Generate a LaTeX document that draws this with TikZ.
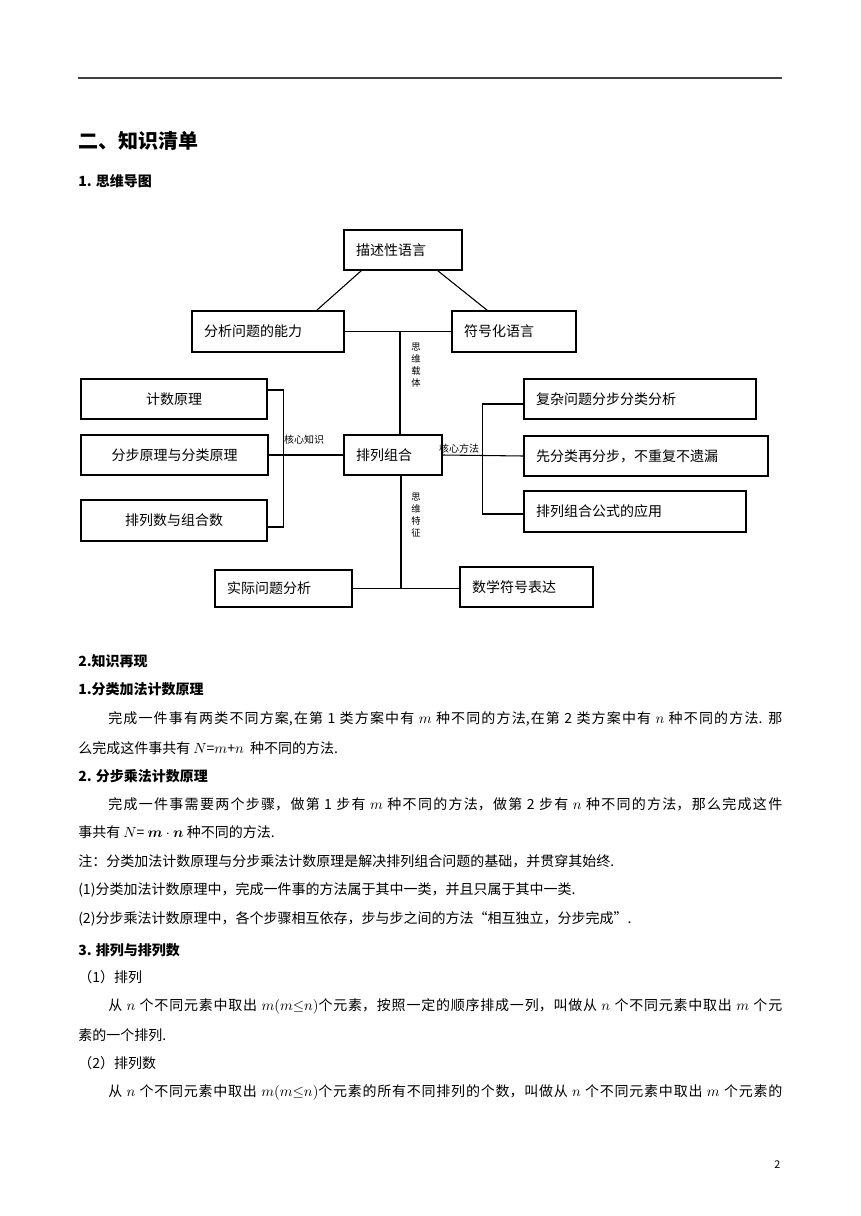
\documentclass[tikz,border=0pt]{standalone}
\usepackage{amsmath,amssymb}
\usepackage{fontspec}
\setmainfont{Liberation Serif}
\newfontfamily\cjk{Noto Sans CJK SC}
\XeTeXlinebreaklocale "zh"
\XeTeXlinebreakskip=0pt
\usepackage{tikz}
\usetikzlibrary{calc}

\newcommand\fullline[1]{\noindent\XeTeXlinebreakskip=0pt plus 3pt\relax\parfillskip=0pt\relax\spaceskip=0.3em plus 0.05em\relax #1\par}

\tikzset{
  mapbox/.style={draw,line width=0.8pt,inner xsep=9pt,inner ysep=0pt,
    align=left,font=\cjk\fontsize{10.5}{12}\selectfont},
  tag/.style={inner sep=0pt,font=\cjk\fontsize{7.5}{8}\selectfont},
  vlab/.style={align=center,inner sep=0pt,font=\cjk\fontsize{7}{9}\selectfont},
  body/.style={anchor=west,inner sep=0pt,font=\cjk\fontsize{10.5}{12}\selectfont},
  fullpar/.style={body,text width=505.5pt,align=justify},
  head/.style={body,font=\cjk\bfseries\fontsize{10.5}{12}\selectfont}
}

\begin{document}
\begin{tikzpicture}[x=0.75pt,y=-0.75pt]
			\useasboundingbox[fill=white] (0,0) rectangle (860,1216);
			% Page rule and titles
			\draw[line width=1.2pt,black!75] (78,78) -- (782,78);
			\node[body,font=\cjk\bfseries\fontsize{15}{18}\selectfont] (title) at (78,141) {二、知识清单};
			\node[head] (maptitle) at (78,181) {1. 思维导图};
			
			% Mind map boxes
			\node[mapbox,minimum width=88.5pt,minimum height=30pt,text width=70.5pt] (desc) at (403,250) {描述性语言};
			\node[mapbox,minimum width=114pt,minimum height=30.75pt,text width=96pt] (anal) at (268,331.5) {分析问题的能力};
			\node[mapbox,minimum width=93pt,minimum height=30.75pt,text width=75pt] (sym) at (514,331.5) {符号化语言};
			\node[mapbox,minimum width=139.5pt,minimum height=30pt,text width=121.5pt,align=center] (count) at (174,399) {计数原理};
			\node[mapbox,minimum width=140.25pt,minimum height=30pt,text width=122.25pt,align=center] (steps) at (174.5,455) {分步原理与分类原理};
			\node[mapbox,minimum width=139.5pt,minimum height=30.75pt,text width=121.5pt,align=center] (nums) at (174,520.5) {排列数与组合数};
			\node[mapbox,minimum width=73.5pt,minimum height=30pt,text width=55.5pt] (core) at (393,455) {排列组合};
			\node[mapbox,minimum width=174pt,minimum height=30pt,text width=156pt] (comp) at (640,399) {复杂问题分步分类分析};
			\node[mapbox,minimum width=183pt,minimum height=30pt,text width=165pt] (first) at (646,456) {先分类再分步，不重复不遗漏};
			\node[mapbox,minimum width=166.5pt,minimum height=30.75pt,text width=148.5pt] (form) at (635,511.5) {排列组合公式的应用};
			\node[mapbox,minimum width=102.75pt,minimum height=27.75pt,text width=84.75pt] (real) at (283.5,588.5) {实际问题分析};
			\node[mapbox,minimum width=99.75pt,minimum height=30pt,text width=81.75pt] (expr) at (526.5,587) {数学符号表达};
			
			% Top connectors
			\draw[line width=0.8pt] ($(desc.south west)+(18,0)$) -- ($(anal.north east)+(-28,0)$);
			\draw[line width=0.8pt] ($(desc.south east)+(-25,0)$) -- ($(sym.north west)+(36,0)$);
			\draw[line width=0.8pt] (anal.east) -- (sym.west);
			\coordinate (cn) at ($(core.north)+(7,0)$);
			\draw[line width=0.8pt] (cn) -- (cn |- anal.east);
			\node[vlab] (carrier) at (416,365) {思\\维\\载\\体};
			
			% Left bracket
			\draw[line width=0.8pt] ($(count.east)+(0,-9)$) -| ($(nums.east)+(16,6.5)$) -- ($(nums.east)+(0,6.5)$);
			\draw[line width=0.8pt] (steps.east) -- (core.west);
			\node[tag] (know) at (304,440) {核心知识};
			
			% Right bracket
			\draw[line width=0.8pt] ($(comp.west)+(0,5)$) -| ($(form.west)+(-41,2.5)$) -- ($(form.west)+(0,2.5)$);
			\draw[line width=0.8pt] (core.east) -- (first.west);
			\node[tag] (meth) at (459,449) {核心方法};
			
			% Bottom connectors
			\coordinate (cs) at ($(core.south)+(8,0)$);
			\draw[line width=0.8pt] (cs) -- (cs |- real.east);
			\draw[line width=0.8pt] (real.east) -- (real.east -| expr.west);
			\node[vlab] (feature) at (416,515) {思\\维\\特\\征};
			
			% Text below the map
			\node[head] (t1) at (78,661) {2.知识再现};
			\node[head] (t2) at (78,689) {1.分类加法计数原理};
			\node[fullpar] (t3) at (108,719) {\fullline{完成一件事有两类不同方案,在第 1 类方案中有 $m$ 种不同的方法,在第 2 类方案中有 $n$ 种不同的方法. 那}};
			\node[body] (t4) at (78,748) {么完成这件事共有 $N$=$m$+$n$ \ 种不同的方法.};
			\node[head] (t5) at (78,776) {2. 分步乘法计数原理};
			\node[fullpar] (t6) at (108,804) {\fullline{完成一件事需要两个步骤，做第 1 步有 $m$ 种不同的方法，做第 2 步有 $n$ 种不同的方法，那么完成这件}};
			\node[body] (t7) at (78,832) {事共有 $N$= $\boldsymbol{m}\cdot\boldsymbol{n}$ 种不同的方法.};
			\node[body] (t8) at (78,861) {注：分类加法计数原理与分步乘法计数原理是解决排列组合问题的基础，并贯穿其始终.};
			\node[body] (t9) at (78,890) {(1)分类加法计数原理中，完成一件事的方法属于其中一类，并且只属于其中一类.};
			\node[body] (t10) at (78,919) {(2)分步乘法计数原理中，各个步骤相互依存，步与步之间的方法“相互独立，分步完成”.};
			\node[head] (t11) at (78,950) {3. 排列与排列数};
			\node[body] (t12) at (78,977) {（1）排列};
			\node[fullpar] (t13) at (108,1006) {\fullline{从 $n$ 个不同元素中取出 $m(m{\leq}n)$个元素，按照一定的顺序排成一列，叫做从 $n$ 个不同元素中取出 $m$ 个元}};
			\node[body] (t14) at (78,1035) {素的一个排列.};
			\node[body] (t15) at (78,1063) {（2）排列数};
			\node[fullpar] (t16) at (108,1092) {\fullline{从 $n$ 个不同元素中取出 $m(m{\leq}n)$个元素的所有不同排列的个数，叫做从 $n$ 个不同元素中取出 $m$ 个元素的}};
			\node[body,font=\cjk\fontsize{8}{9}\selectfont] (page) at (774,1165) {2};
		\end{tikzpicture}
\end{document}
